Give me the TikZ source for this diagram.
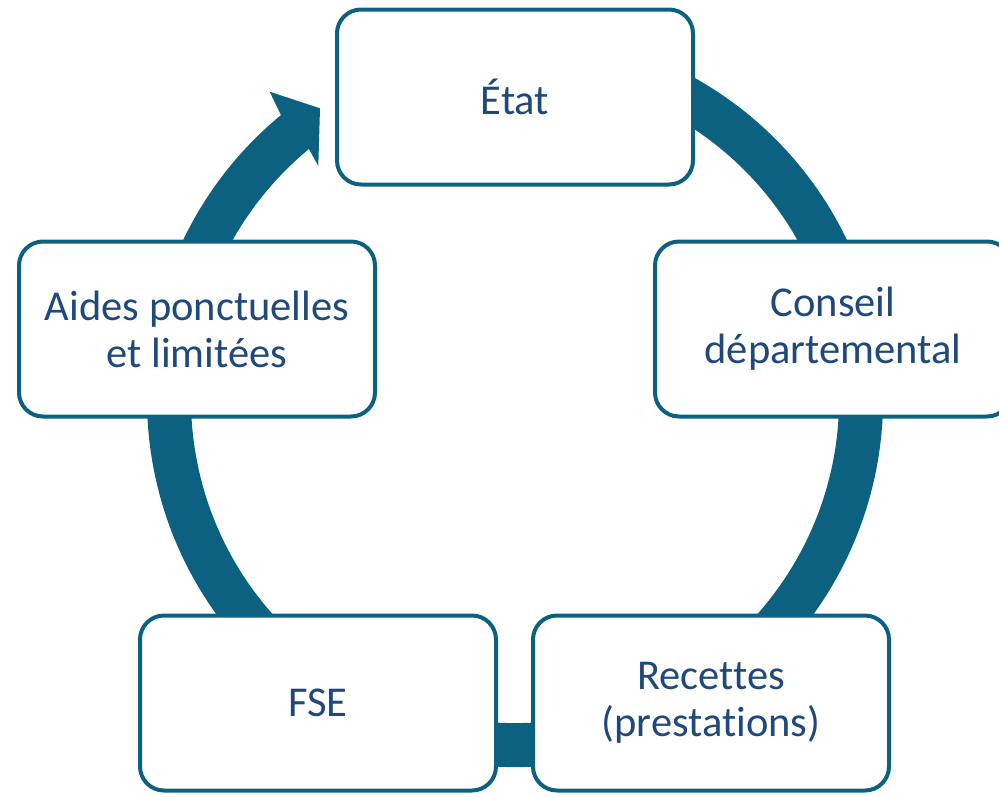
\documentclass[tikz,border=0pt]{standalone}
\usepackage{fontspec}
\setmainfont[Ligatures=NoCommon]{Carlito}
\definecolor{ringc}{RGB}{13,97,128}
\definecolor{txtc}{RGB}{31,73,125}
\begin{document}
\begin{tikzpicture}[x=1pt,y=-1pt,
  box/.style={draw=ringc, line width=4pt, fill=white, rounded corners=24pt,
    minimum width=356pt, minimum height=175pt, text=txtc, align=center,
    font=\fontsize{42.5}{47}\selectfont, inner sep=0pt}]
\useasboundingbox (0,0) rectangle (999,796);
\clip (0,0) rectangle (999,796);
% ring
\coordinate (tail) at (454.9,58.3);
\draw[ringc, line width=44pt] (tail) arc[start angle=-100, end angle=230.8, radius=346];
% arrow head
\fill[ringc] (280.9,115) -- (269.7,91.7) -- (320,108.3) -- (318.3,166) -- (308.9,149) -- cycle;
% boxes
\node[box] (etat) at (515,97) {État};
\node[box] (conseil) at (833,329) {Conseil\\départemental};
\node[box] (aides) at (197,329) {Aides ponctuelles\\et limitées};
\node[box] (fse) at (318,703) {FSE};
\node[box] (recettes) at (711,703) {Recettes\\(prestations)};
\end{tikzpicture}
\end{document}
